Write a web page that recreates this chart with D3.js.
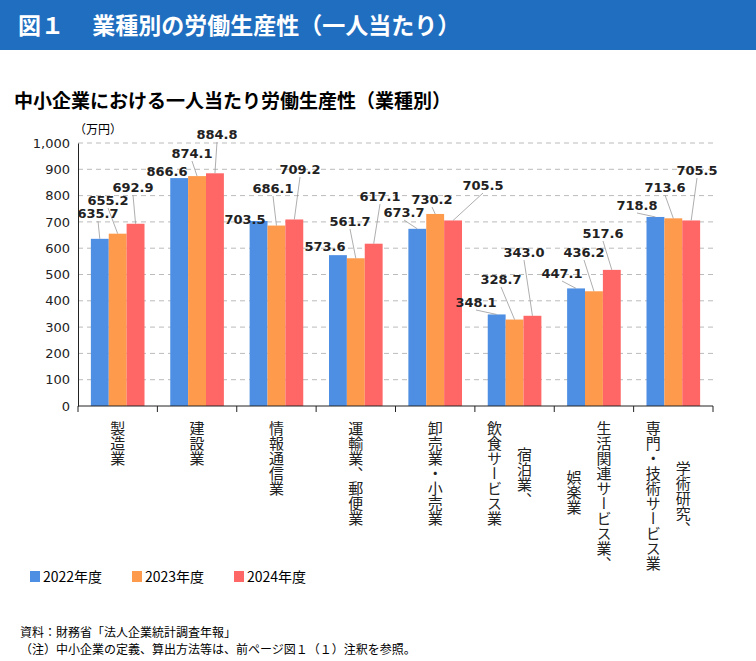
<!DOCTYPE html>
<html><head><meta charset="utf-8">
<script src="https://cdn.jsdelivr.net/npm/d3@7"></script>
<style>body{margin:0;background:#fff;font-family:"Noto Sans CJK JP","Noto Sans",sans-serif}</style>
</head><body><div id="chart"></div>
<script>
(function () {

// Data
const categories = ["製造業", "建設業", "情報通信業", "運輸業、郵便業", "卸売業・小売業",
    "宿泊業、飲食サービス業", "生活関連サービス業、娯楽業", "学術研究、専門・技術サービス業"];
const years = ["2022年度", "2023年度", "2024年度"];
const values2022 = [635.7, 866.6, 703.5, 573.6, 673.7, 348.1, 447.1, 718.8];
const values2023 = [655.2, 874.1, 686.1, 561.7, 730.2, 328.7, 436.2, 713.6];
const values2024 = [692.9, 884.8, 709.2, 617.1, 705.5, 343.0, 517.6, 705.5];
const yTicks = [0, 100, 200, 300, 400, 500, 600, 700, 800, 900, 1000];

// label placement (pixel positions of value labels)
const labelPos = [
    [[98, 213], [108, 200], [133, 187]],
    [[167, 171], [192, 153], [217, 134]],
    [[245, 219], [273, 188], [300, 169]],
    [[325, 246], [350, 221], [380, 196]],
    [[404, 212], [432, 199], [483, 185]],
    [[476, 302], [501, 279], [524, 252]],
    [[562, 273], [584, 252], [603, 233]],
    [[637, 205], [665, 187], [697, 170]]
];
// vertical label columns: [text, y offset] drawn right to left
const labelCols = [
    [["製造業", 0]], [["建設業", 0]], [["情報通信業", 0]], [["運輸業、郵便業", 0]],
    [["卸売業・小売業", 0]],
    [["宿泊業、", 26], ["飲食サービス業", 0]],
    [["生活関連サービス業、", 0], ["娯楽業", 49]],
    [["学術研究、", 40], ["専門・技術サービス業", 0]]
];
const colors = ["#4f8fe3", "#fd9a4c", "#ff6666"];
const series = [values2022, values2023, values2024];

const width = 756, height = 661;
const svg = d3.select("#chart").append("svg").attr("width", width).attr("height", height);

// Banner
svg.append("rect").attr("x", 0).attr("y", 0).attr("width", width).attr("height", 50).attr("fill", "#1f6ebf");
svg.append("text").attr("x", 18).attr("y", 34).attr("fill", "#fff")
    .style("font-size", "23px").style("font-weight", "bold")
    .text("図１　 業種別の労働生産性（一人当たり）");

svg.append("text").attr("x", 14).attr("y", 108)
    .style("font-size", "19px").style("font-weight", "bold")
    .text("中小企業における一人当たり労働生産性（業種別）");

const x0 = d3.scaleBand().domain(categories).range([78, 713]);
const x1 = d3.scaleBand().domain(years).range([0, x0.bandwidth()]).paddingInner(0).paddingOuter(0.72);
const y = d3.scaleLinear().domain([0, 1000]).range([406, 143]);

// grid
svg.append("g").selectAll("line").data(yTicks.slice(1)).join("line")
    .attr("x1", 78).attr("x2", 713).attr("y1", d => y(d)).attr("y2", d => y(d))
    .attr("stroke", "#bbb").attr("stroke-dasharray", "5,4");

// y axis
const yAxis = svg.append("g").attr("transform", "translate(78,0)")
    .call(d3.axisLeft(y).tickValues(yTicks).tickSize(0).tickPadding(8).tickFormat(d3.format(",")));
yAxis.select(".domain").attr("stroke", "#222");
yAxis.selectAll("text").style("font-size", "13px").style("font-family", "Verdana,DejaVu Sans,sans-serif").attr("fill", "#222");
svg.append("text").attr("x", 74).attr("y", 134).style("font-size", "12px").text("（万円）");

// bars
categories.forEach((c, i) => {
    series.forEach((s, j) => {
        const bx = x0(c) + x1(years[j]);
        svg.append("rect").attr("x", bx).attr("y", y(s[i])).attr("width", x1.bandwidth())
            .attr("height", y(0) - y(s[i])).attr("fill", colors[j]);
        const [lx, ly] = labelPos[i][j];
        const cx = bx + x1.bandwidth() / 2;
        if (y(s[i]) - (ly + 8) > 3) {
            svg.append("line").attr("x1", cx).attr("y1", y(s[i])).attr("x2", lx).attr("y2", ly + 8)
                .attr("stroke", "#999").attr("stroke-width", 0.8);
        }
    });
});
categories.forEach((c, i) => {
    series.forEach((s, j) => {
        const [lx, ly] = labelPos[i][j];
        svg.append("text").attr("x", lx).attr("y", ly + 5).attr("text-anchor", "middle")
            .style("font-size", "13px").style("font-weight", "bold")
            .style("font-family", "Verdana,DejaVu Sans,sans-serif").attr("fill", "#222")
            .text(s[i].toFixed(1));
    });
});

// x axis
const xAxis = svg.append("g").attr("transform", "translate(0,406)");
xAxis.append("line").attr("x1", 78).attr("x2", 713).attr("stroke", "#222");
xAxis.selectAll(".tk").data(d3.range(categories.length + 1)).join("line")
    .attr("x1", d => 78 + d * x0.bandwidth()).attr("x2", d => 78 + d * x0.bandwidth())
    .attr("y1", 0).attr("y2", 6).attr("stroke", "#222");

categories.forEach((c, i) => {
    const cols = labelCols[i];
    const cx = x0(c) + x0.bandwidth() / 2;
    cols.forEach((col, k) => {
        const colX = cx + ((cols.length - 1) / 2 - k) * 30 + (cols.length > 1 ? -5 : 0);
        svg.append("text").attr("x", colX).attr("y", 421 + col[1])
            .style("writing-mode", "vertical-rl").style("font-size", "15px")
            .style("font-family", "Noto Sans CJK JP").attr("fill", "#222")
            .text(col[0]);
    });
});

// legend
years.forEach((yr, j) => {
    const lx = 30 + j * 102;
    svg.append("rect").attr("x", lx).attr("y", 571).attr("width", 10).attr("height", 11).attr("fill", colors[j]);
    svg.append("text").attr("x", lx + 13).attr("y", 582).style("font-size", "14px").text(yr);
});

svg.append("text").attr("x", 20).attr("y", 637).style("font-size", "12px").text("資料：財務省「法人企業統計調査年報」");
svg.append("text").attr("x", 20).attr("y", 654).style("font-size", "12px")
    .text("（注）中小企業の定義、算出方法等は、前ページ図１（１）注釈を参照。");

})();
</script></body></html>
